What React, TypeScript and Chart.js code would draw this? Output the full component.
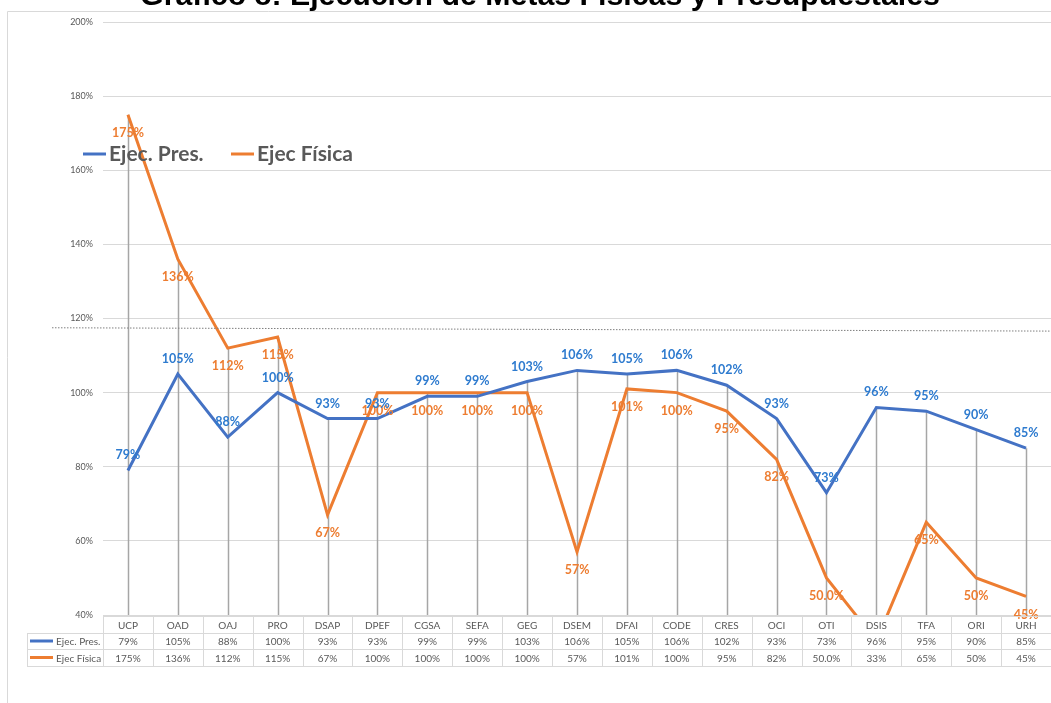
import React, { useEffect, useRef } from "react";
import { Chart, registerables } from "chart.js";

Chart.register(...registerables);

const titleText = "Gráfico 8: Ejecución de Metas Físicas y Presupuestales";
const categories = ["UCP", "OAD", "OAJ", "PRO", "DSAP", "DPEF", "CGSA", "SEFA", "GEG", "DSEM", "DFAI", "CODE", "CRES", "OCI", "OTI", "DSIS", "TFA", "ORI", "URH"];
const presName = "Ejec. Pres.";
const fisName = "Ejec Física";
const presValues = [79, 105, 88, 100, 93, 93, 99, 99, 103, 106, 105, 106, 102, 93, 73, 96, 95, 90, 85];
const fisValues = [175, 136, 112, 115, 67, 100, 100, 100, 100, 57, 101, 100, 95, 82, 50, 33, 65, 50, 45];
const presLabels = ["79%", "105%", "88%", "100%", "93%", "93%", "99%", "99%", "103%", "106%", "105%", "106%", "102%", "93%", "73%", "96%", "95%", "90%", "85%"];
const fisLabels = ["175%", "136%", "112%", "115%", "67%", "100%", "100%", "100%", "100%", "57%", "101%", "100%", "95%", "82%", "50.0%", "33%", "65%", "50%", "45%"];
const yMin = 40;
const yMax = 200;
const yStep = 20;
const refLineStart = 117.5;
const refLineEnd = 116.6;

const BLUE = "#4472C4";
const ORANGE = "#ED7D31";
const BLUE_LABEL = "#2E7BCF";
const TEXT = "#595959";
const GRID = "#D9D9D9";

const overlayPlugin = {
  id: "overlay",
  beforeDatasetsDraw(chart: any) {
    const ctx = chart.ctx;
    const x = chart.scales.x;
    const y = chart.scales.y;
    const area = chart.chartArea;
    ctx.save();
    // drop lines
    ctx.strokeStyle = "#A6A6A6";
    ctx.lineWidth = 1.5;
    categories.forEach((_, i) => {
      const top = Math.max(presValues[i], fisValues[i]);
      const px = Math.round(x.getPixelForValue(i)) + 0.5;
      ctx.beginPath();
      ctx.moveTo(px, Math.max(area.top, y.getPixelForValue(top)));
      ctx.lineTo(px, area.bottom);
      ctx.stroke();
    });
    ctx.restore();
  },
  afterDatasetsDraw(chart: any) {
    const ctx = chart.ctx;
    const x = chart.scales.x;
    const y = chart.scales.y;
    const area = chart.chartArea;
    const W = chart.width;
    ctx.save();

    // dotted reference line
    ctx.strokeStyle = "#7F7F7F";
    ctx.lineWidth = 1;
    ctx.setLineDash([1.5, 1.5]);
    ctx.beginPath();
    ctx.moveTo(52, y.getPixelForValue(refLineStart));
    ctx.lineTo(W, y.getPixelForValue(refLineEnd));
    ctx.stroke();
    ctx.setLineDash([]);

    // data labels
    ctx.textAlign = "center";
    ctx.textBaseline = "middle";
    ctx.font = "bold 12.5px Lato, 'Open Sans', sans-serif";
    categories.forEach((_, i) => {
      const px = x.getPixelForValue(i);
      if (fisValues[i] >= yMin) {
        ctx.fillStyle = ORANGE;
        ctx.fillText(fisLabels[i], px, y.getPixelForValue(fisValues[i]) + 18);
      }
      if (presValues[i] >= yMin) {
        ctx.fillStyle = BLUE_LABEL;
        ctx.fillText(presLabels[i], px, y.getPixelForValue(presValues[i]) - 15);
      }
    });

    // legend
    const legY = 154;
    ctx.lineWidth = 3;
    ctx.font = "bold 21px Lato, 'Open Sans', sans-serif";
    ctx.textAlign = "left";
    ctx.fillStyle = TEXT;
    ctx.strokeStyle = BLUE;
    ctx.beginPath();
    ctx.moveTo(83, legY);
    ctx.lineTo(106, legY);
    ctx.stroke();
    ctx.fillText(presName, 109, legY);
    ctx.strokeStyle = ORANGE;
    ctx.beginPath();
    ctx.moveTo(231, legY);
    ctx.lineTo(254, legY);
    ctx.stroke();
    ctx.fillText(fisName, 257, legY);

    // data table
    const colW = (area.right - area.left) / categories.length;
    const r0 = area.bottom + 1;
    const r1 = r0 + 17;
    const r2 = r1 + 16;
    const r3 = r2 + 17;
    const labelLeft = 27;
    ctx.strokeStyle = GRID;
    ctx.lineWidth = 1;
    ctx.beginPath();
    // horizontal lines
    ctx.moveTo(area.left, r0 + 0.5);
    ctx.lineTo(area.right, r0 + 0.5);
    [r1, r2, r3].forEach((r) => {
      ctx.moveTo(labelLeft, r + 0.5);
      ctx.lineTo(area.right, r + 0.5);
    });
    // vertical lines
    for (let i = 0; i <= categories.length; i++) {
      const vx = Math.round(area.left + i * colW) + 0.5;
      ctx.moveTo(vx, r0);
      ctx.lineTo(vx, r3);
    }
    ctx.moveTo(labelLeft + 0.5, r1);
    ctx.lineTo(labelLeft + 0.5, r3);
    ctx.stroke();

    ctx.font = "10px Lato, 'Open Sans', sans-serif";
    ctx.fillStyle = TEXT;
    ctx.textAlign = "center";
    categories.forEach((c, i) => {
      const cx = x.getPixelForValue(i);
      ctx.fillText(c, cx, (r0 + r1) / 2 + 1);
      ctx.fillText(presLabels[i], cx, (r1 + r2) / 2 + 1);
      ctx.fillText(fisLabels[i], cx, (r2 + r3) / 2 + 1);
    });
    ctx.textAlign = "left";
    ctx.lineWidth = 3;
    ctx.strokeStyle = BLUE;
    ctx.beginPath();
    ctx.moveTo(30, (r1 + r2) / 2);
    ctx.lineTo(53, (r1 + r2) / 2);
    ctx.stroke();
    ctx.fillText(presName, 56, (r1 + r2) / 2 + 1);
    ctx.strokeStyle = ORANGE;
    ctx.beginPath();
    ctx.moveTo(30, (r2 + r3) / 2);
    ctx.lineTo(53, (r2 + r3) / 2);
    ctx.stroke();
    ctx.fillText(fisName, 56, (r2 + r3) / 2 + 1);

    // frame
    ctx.strokeStyle = GRID;
    ctx.lineWidth = 1;
    ctx.beginPath();
    ctx.moveTo(7.5, chart.height);
    ctx.lineTo(7.5, 11.5);
    ctx.lineTo(W, 11.5);
    ctx.stroke();

    // title (partly cut off at top)
    ctx.fillStyle = "#000000";
    ctx.textAlign = "center";
    ctx.textBaseline = "alphabetic";
    ctx.font = "bold 24px 'Liberation Sans', Arial, sans-serif";
    const w = ctx.measureText(titleText).width;
    const size = (24 * 800) / w;
    ctx.font = `bold ${size}px 'Liberation Sans', Arial, sans-serif`;
    ctx.fillText(titleText, 540, 5);

    ctx.restore();
  },
};

export default function App() {
  const ref = useRef<HTMLCanvasElement>(null);
  useEffect(() => {
    if (!ref.current) return;
    const chart = new Chart(ref.current, {
      type: "line",
      data: {
        labels: categories,
        datasets: [
          {
            label: presName,
            data: presValues,
            borderColor: BLUE,
            backgroundColor: BLUE,
            borderWidth: 3,
            pointRadius: 0,
            tension: 0,
            clip: 0,
          },
          {
            label: fisName,
            data: fisValues,
            borderColor: ORANGE,
            backgroundColor: ORANGE,
            borderWidth: 3,
            pointRadius: 0,
            tension: 0,
            clip: 0,
          },
        ],
      },
      options: {
        responsive: false,
        animation: false,
        layout: { padding: { top: 22, bottom: 88, left: 0, right: 0 } },
        plugins: {
          legend: { display: false },
          title: { display: false },
          tooltip: { enabled: false },
        },
        scales: {
          x: { type: "category", display: false, offset: true },
          y: {
            min: yMin,
            max: yMax,
            afterFit: (s: any) => {
              s.width = 103;
            },
            border: { display: false },
            grid: { color: GRID, drawTicks: false, lineWidth: 1 },
            ticks: {
              stepSize: yStep,
              padding: 10,
              color: TEXT,
              font: { size: 9, family: "Lato, 'Open Sans', sans-serif" },
              callback: (v: any) => `${v}%`,
            },
          },
        },
      },
      plugins: [overlayPlugin],
    });
    return () => chart.destroy();
  }, []);
  return (
    <div style={{ position: "absolute", left: 0, top: 0, width: 1051, height: 703, background: "#fff" }}>
      <canvas ref={ref} width={1051} height={703} />
    </div>
  );
}
